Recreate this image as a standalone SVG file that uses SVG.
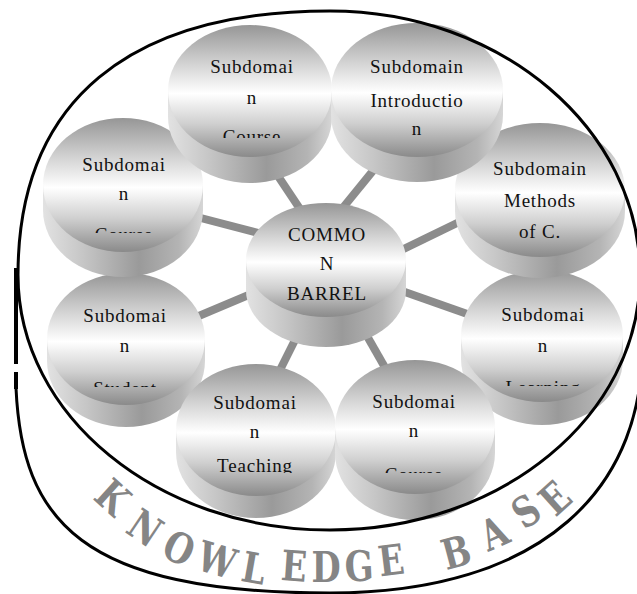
<svg xmlns="http://www.w3.org/2000/svg" width="637" height="594" viewBox="0 0 637 594">
<defs>
  <linearGradient id="gFace" x1="0" y1="0" x2="0" y2="1">
    <stop offset="0" stop-color="#969696"/>
    <stop offset="0.3" stop-color="#d4d4d4"/>
    <stop offset="0.52" stop-color="#ffffff"/>
    <stop offset="0.75" stop-color="#cfcfcf"/>
    <stop offset="1" stop-color="#8a8a8a"/>
  </linearGradient>
  <linearGradient id="gSide" x1="0" y1="0" x2="1" y2="0">
    <stop offset="0" stop-color="#e2e2e2"/>
    <stop offset="0.25" stop-color="#c6c6c6"/>
    <stop offset="0.6" stop-color="#9a9a9a"/>
    <stop offset="0.85" stop-color="#b4b4b4"/>
    <stop offset="1" stop-color="#d6d6d6"/>
  </linearGradient>
  <clipPath id="clipA" clipPathUnits="userSpaceOnUse"><rect x="0" y="0" width="637" height="138"/></clipPath>
  <clipPath id="clipC" clipPathUnits="userSpaceOnUse"><rect x="0" y="0" width="637" height="233"/></clipPath>
  <clipPath id="clipF" clipPathUnits="userSpaceOnUse"><rect x="0" y="0" width="637" height="387"/></clipPath>
  <clipPath id="clipG" clipPathUnits="userSpaceOnUse"><rect x="0" y="0" width="637" height="386"/></clipPath>
  <clipPath id="clipH" clipPathUnits="userSpaceOnUse"><rect x="0" y="0" width="637" height="473"/></clipPath>
  <clipPath id="clipI" clipPathUnits="userSpaceOnUse"><rect x="0" y="0" width="637" height="473"/></clipPath>
</defs>
<style>
  .side { fill: url(#gSide); }
  .face { fill: url(#gFace); }
  .lbl { font-family: "Liberation Serif", "Times New Roman", serif; font-size: 19px; letter-spacing: 0.8px; text-anchor: middle; fill: #111; }
  .conn { stroke: #8c8c8c; stroke-width: 8; fill: none; }
  .outline { stroke: #000; stroke-width: 3; fill: none; }
  .kb { font-family: "DejaVu Serif", "Liberation Serif", serif; font-weight: bold; font-size: 42px; fill: #858585; text-anchor: middle; }
</style>
<rect width="637" height="594" fill="#fff"/>

<g id="connectors">
  <line class="conn" x1="254" y1="140" x2="304" y2="215"/>
  <line class="conn" x1="398" y1="140" x2="337" y2="215"/>
  <line class="conn" x1="170" y1="210" x2="270" y2="236"/>
  <line class="conn" x1="490" y1="207" x2="385" y2="258"/>
  <line class="conn" x1="175" y1="326" x2="265" y2="288"/>
  <line class="conn" x1="385" y1="285" x2="490" y2="322"/>
  <line class="conn" x1="305" y1="320" x2="275" y2="380"/>
  <line class="conn" x1="355" y1="315" x2="395" y2="385"/>
</g>

<g id="barrel-student">
  <path class="side" d="M47,339 V361 A79,66 0 0 0 205,361 V339 Z"/>
  <ellipse class="face" cx="126" cy="339" rx="79" ry="66"/>
  <text class="lbl" x="125" y="322">Subdomai</text>
  <text class="lbl" x="125" y="352">n</text>
  <text class="lbl" x="125" y="395" clip-path="url(#clipF)">Student</text>
</g>

<g id="barrel-course-left">
  <path class="side" d="M43,185 V210 A80,67 0 0 0 203,210 V185 Z"/>
  <ellipse class="face" cx="123" cy="185" rx="80" ry="67"/>
  <text class="lbl" x="124" y="171">Subdomai</text>
  <text class="lbl" x="124" y="200">n</text>
  <text class="lbl" x="124" y="241" clip-path="url(#clipC)">Course</text>
</g>

<g id="barrel-learning">
  <path class="side" d="M461,336 V359 A81,66 0 0 0 623,359 V336 Z"/>
  <ellipse class="face" cx="542" cy="336" rx="81" ry="66"/>
  <text class="lbl" x="543" y="321">Subdomai</text>
  <text class="lbl" x="543" y="352">n</text>
  <text class="lbl" x="543" y="394" clip-path="url(#clipG)">Learning</text>
</g>

<g id="barrel-methods">
  <path class="side" d="M455,190 V211 A85,67 0 0 0 625,211 V190 Z"/>
  <ellipse class="face" cx="540" cy="190" rx="85" ry="67"/>
  <text class="lbl" x="540" y="175">Subdomain</text>
  <text class="lbl" x="540" y="207">Methods</text>
  <text class="lbl" x="540" y="238">of  C.</text>
</g>

<g id="barrel-course-top">
  <path class="side" d="M168,91 V117 A82,66 0 0 0 332,117 V91 Z"/>
  <ellipse class="face" cx="250" cy="91" rx="82" ry="66"/>
  <text class="lbl" x="252" y="73">Subdomai</text>
  <text class="lbl" x="252" y="104">n</text>
  <text class="lbl" x="252" y="143" clip-path="url(#clipA)">Course</text>
</g>

<g id="barrel-introduction">
  <path class="side" d="M331,90 V115 A86,67 0 0 0 503,115 V90 Z"/>
  <ellipse class="face" cx="417" cy="90" rx="86" ry="67"/>
  <text class="lbl" x="417" y="73">Subdomain</text>
  <text class="lbl" x="417" y="107">Introductio</text>
  <text class="lbl" x="417" y="135">n</text>
</g>

<g id="barrel-common">
  <path class="side" d="M246,260 V290 A80,57 0 0 0 406,290 V260 Z"/>
  <ellipse class="face" cx="326" cy="260" rx="80" ry="57"/>
  <text class="lbl" x="327" y="241">COMMO</text>
  <text class="lbl" x="327" y="270">N</text>
  <text class="lbl" x="327" y="300">BARREL</text>
</g>

<g id="barrel-teaching">
  <path class="side" d="M176,430 V452 A80,66 0 0 0 336,452 V430 Z"/>
  <ellipse class="face" cx="256" cy="430" rx="80" ry="66"/>
  <text class="lbl" x="255" y="409">Subdomai</text>
  <text class="lbl" x="255" y="438">n</text>
  <text class="lbl" x="255" y="472" clip-path="url(#clipH)">Teaching</text>
</g>

<g id="barrel-course-bottom">
  <path class="side" d="M335,427 V453 A80,67 0 0 0 495,453 V427 Z"/>
  <ellipse class="face" cx="415" cy="427" rx="80" ry="67"/>
  <text class="lbl" x="414" y="408">Subdomai</text>
  <text class="lbl" x="414" y="437">n</text>
  <text class="lbl" x="414" y="481" clip-path="url(#clipI)">Course</text>
</g>

<g id="knowledge-base">
  <path class="outline" d="M330,11 C130,11 18,100 18,275 C18,416 158,530 330,530 C501,530 640,416 640,275 C640,129 501,11 330,11 Z"/>
  <path class="outline" d="M16,388 C22,520 80,593 330,593 C540,593 650,490 642,330"/>
  <rect x="14" y="268" width="4" height="96" fill="#000"/>
  <rect x="14" y="372" width="4" height="17" fill="#000"/>
  <text class="kb" transform="translate(113,497) rotate(42) scale(0.8,1)" y="15">K</text>
  <text class="kb" transform="translate(145,528) rotate(34) scale(0.8,1)" y="15">N</text>
  <text class="kb" transform="translate(179,548) rotate(25) scale(0.8,1)" y="15">O</text>
  <text class="kb" transform="translate(217,560) rotate(17) scale(0.8,1)" y="15">W</text>
  <text class="kb" transform="translate(254,568) rotate(10) scale(0.8,1)" y="15">L</text>
  <text class="kb" transform="translate(294,566) rotate(4) scale(0.8,1)" y="15">E</text>
  <text class="kb" transform="translate(326,567) rotate(0) scale(0.8,1)" y="15">D</text>
  <text class="kb" transform="translate(359,566) rotate(-3) scale(0.8,1)" y="15">G</text>
  <text class="kb" transform="translate(391,560) rotate(-7) scale(0.8,1)" y="15">E</text>
  <text class="kb" transform="translate(456,552) rotate(-15) scale(0.8,1)" y="15">B</text>
  <text class="kb" transform="translate(494,533) rotate(-24) scale(0.8,1)" y="15">A</text>
  <text class="kb" transform="translate(526,511) rotate(-33) scale(0.8,1)" y="15">S</text>
  <text class="kb" transform="translate(555,498) rotate(-42) scale(0.8,1)" y="15">E</text>
</g>
</svg>
